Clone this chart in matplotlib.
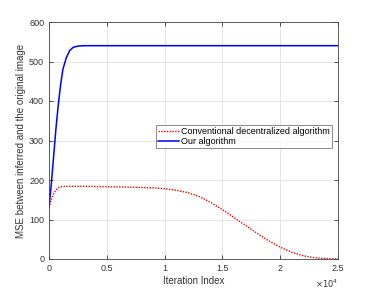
import numpy as np
import matplotlib.pyplot as plt

plt.rcParams['font.family'] = ['Liberation Sans', 'DejaVu Sans']

# values
ours_x = [0, 200, 400, 600, 800, 1000, 1200, 1500, 1800, 2100, 2500, 3000, 25000]
ours_y = [130, 190, 260, 330, 390, 440, 480, 510, 528, 536, 539, 540, 540]

conv_x = [0, 200, 400, 600, 800, 1000, 1500, 3000, 5000, 7000, 9000, 10000, 11000,
          12000, 13000, 14000, 15000, 16000, 17000, 18000, 19000, 20000, 21000,
          22000, 23000, 24000, 25000]
conv_y = [130, 150, 165, 175, 180, 183, 184, 184, 183, 182, 180, 178, 174,
          168, 158, 143, 125, 105, 85, 65, 46, 30, 17, 8, 3, 1, 0]

xticks = [0, 5000, 10000, 15000, 20000, 25000]
xticklabels = ['0', '0.5', '1', '1.5', '2', '2.5']
yticks = [0, 100, 200, 300, 400, 500, 600]

fig = plt.figure(figsize=(3.74, 2.91), dpi=100)
ax = fig.add_axes([49/374, 1-259/291, 289/374, 237/291])

ax.plot(conv_x, conv_y, color='red', linestyle=(0, (1, 1)), linewidth=1.0,
        label='Conventional decentralized algorithm')
ax.plot(ours_x, ours_y, color='blue', linestyle='-', linewidth=1.1,
        label='Our algorithm')

ax.set_xlim(0, 25000)
ax.set_ylim(0, 600)
ax.set_xticks(xticks)
ax.set_xticklabels(xticklabels)
ax.set_yticks(yticks)
ax.text(1.0, -0.105, r'$\times10^4$', transform=ax.transAxes, ha='right',
        va='center', fontsize=6, color='#333333')

ax.grid(True, color='#e0e0e0', linewidth=0.6)
ax.tick_params(direction='in', top=True, right=True, labelsize=6.5,
               colors='#333333', length=3, width=0.6)
for s in ax.spines.values():
    s.set_color('#444444')
    s.set_linewidth(0.6)

ax.set_xlabel('Iteration Index', fontsize=7, color='#333333', labelpad=2)
ax.set_ylabel('MSE between inferred and the original image', fontsize=7,
              color='#333333', labelpad=2)

leg = ax.legend(loc='upper left', bbox_to_anchor=(0.37, 0.565), fontsize=6.5,
                frameon=True, fancybox=False, edgecolor='#555555',
                borderpad=0.2, handlelength=2.4, handletextpad=0.2,
                labelspacing=0.1, borderaxespad=0)
leg.get_frame().set_linewidth(0.6)

fig.savefig('out.png', dpi=100)
